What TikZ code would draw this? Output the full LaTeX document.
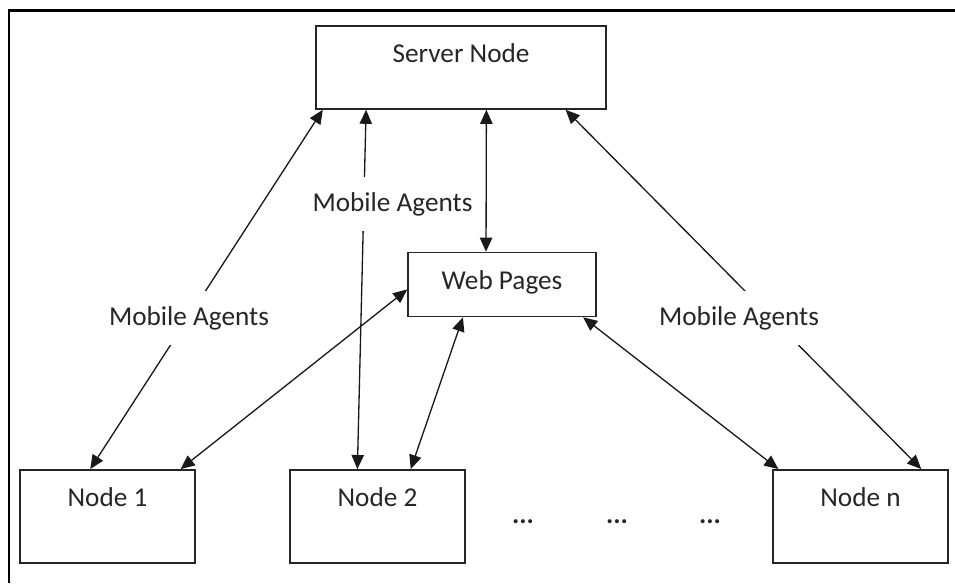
\documentclass[tikz,border=0pt]{standalone}
\usepackage{fontspec}
\setmainfont{Carlito}
\usepackage{tikz}
\usetikzlibrary{arrows.meta}

\begin{document}
\begin{tikzpicture}
  [x=0.02cm,y=-0.02cm,
   every node/.style={font=\fontsize{15.5pt}{18pt}\selectfont,inner sep=0pt,text=black!85},
   box/.style={draw=black!85,line width=0.9pt,rectangle},
   srvbox/.style={box,minimum width=165pt,text height=21pt,text depth=26.2pt},
   webbox/.style={box,minimum width=107pt,text height=21.2pt,text depth=15.2pt},
   hostbox/.style={box,minimum width=99.6pt,text height=20.9pt,text depth=32.2pt},
   agent/.style={fill=white,inner xsep=2pt,inner ysep=8.5pt},
   link/.style={line width=0.75pt,black!90,<->,>={Triangle[length=8pt,width=7pt]}}]
  \useasboundingbox (0,0) rectangle (955,583);
  \draw[line width=1.7pt] (9,583) -- (9,10) -- (955,10);
  \node[srvbox] (srv) at (461,67.5) {Server Node};
  \node[webbox] (web) at (502,284.5) {Web Pages};
  \node[hostbox] (n1) at (107.5,516.5) {Node 1};
  \node[hostbox] (n2) at (377.5,516.5) {Node 2};
  \node[hostbox] (nn) at (860.5,516.5) {Node n};
  \foreach \from/\to in {srv.197.5/n1.110.6,srv.204.5/n2.113.8,srv.301.1/web.116.6,web.183.7/n1.33.4,web.220.9/n2.55,web.338.4/nn.150,srv.338.3/nn.38}
    \draw[link] (\from) -- (\to);
  \node[agent] (ma1) at (189,318) {Mobile Agents};
  \node[agent] (ma2) at (392.5,204) {Mobile Agents};
  \node[agent] (ma3) at (739,318) {Mobile Agents};
  \node (d1) at (523,522) {\textbf{...}};
  \node (d2) at (617,522) {\textbf{...}};
  \node (d3) at (710,522) {\textbf{...}};
\end{tikzpicture}
\end{document}
